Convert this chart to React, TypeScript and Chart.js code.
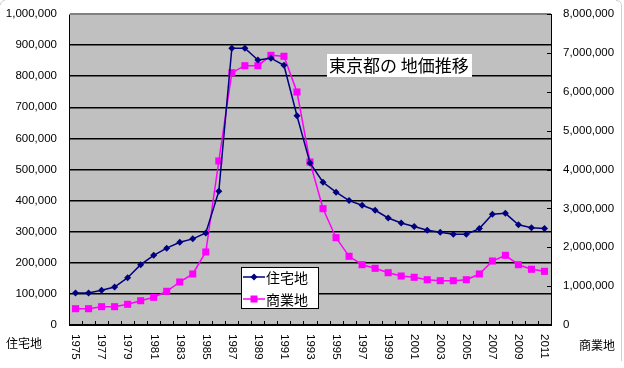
import React, { useEffect, useRef } from 'react';
import { Chart, registerables } from 'chart.js';

Chart.register(...registerables);

const years = [
  '1975', '1976', '1977', '1978', '1979', '1980', '1981', '1982', '1983', '1984',
  '1985', '1986', '1987', '1988', '1989', '1990', '1991', '1992', '1993', '1994',
  '1995', '1996', '1997', '1998', '1999', '2000', '2001', '2002', '2003', '2004',
  '2005', '2006', '2007', '2008', '2009', '2010', '2011',
];

// 住宅地 (left axis)
const residential = [
  103000, 103000, 112000, 122000, 152000, 194000, 224000, 247000, 266000, 277000,
  296000, 430000, 890000, 890000, 852000, 858000, 835000, 673000, 521000, 459000,
  427000, 400000, 385000, 369000, 344000, 328000, 317000, 305000, 298000, 292000,
  292000, 310000, 356000, 359000, 322000, 313000, 310000,
];

// 商業地 (right axis)
const commercial = [
  419000, 419000, 471000, 471000, 532000, 625000, 712000, 867000, 1106000, 1312000,
  1878000, 4219000, 6490000, 6670000, 6670000, 6937000, 6912000, 5994000, 4193000, 2992000,
  2246000, 1767000, 1551000, 1458000, 1345000, 1260000, 1227000, 1165000, 1140000, 1140000,
  1165000, 1312000, 1646000, 1793000, 1551000, 1433000, 1381000,
];

const seriesNames = ['住宅地', '商業地'];
const seriesColors = ['#000080', '#FF00FF'];
const titleText = '東京都の 地価推移';
const leftAxisTitle = '住宅地';
const rightAxisTitle = '商業地';
const leftMax = 1000000;
const leftStep = 100000;
const rightMax = 8000000;
const rightStep = 1000000;

const NUM_FONT = '"Liberation Sans", Arial, sans-serif';
const CJK_FONT = '"Noto Sans CJK JP", sans-serif';

const fmt = (v: number) => Number(v).toLocaleString('en-US');

const decor = {
  id: 'decor',
  beforeDraw(chart: any) {
    const { ctx, chartArea: a } = chart;
    ctx.save();
    ctx.fillStyle = '#C0C0C0';
    ctx.fillRect(a.left, a.top, a.right - a.left, a.bottom - a.top);
    ctx.restore();
  },
  afterDraw(chart: any) {
    const { ctx, chartArea: a, scales } = chart;
    const xs = scales.x;
    const yR = scales.y1;
    ctx.save();

    // top border of plot area
    ctx.strokeStyle = '#808080';
    ctx.lineWidth = 1;
    ctx.beginPath();
    ctx.moveTo(a.left, Math.round(a.top) + 0.5);
    ctx.lineTo(a.right, Math.round(a.top) + 0.5);
    ctx.stroke();

    // inward tick marks on x axis (category boundaries)
    ctx.strokeStyle = '#000';
    const n = years.length;
    const w = (a.right - a.left) / n;
    ctx.beginPath();
    for (let i = 1; i < n; i++) {
      const px = Math.round(xs.getPixelForValue(i) - w / 2) + 0.5;
      ctx.moveTo(px, a.bottom - 4);
      ctx.lineTo(px, a.bottom);
    }
    // inward tick marks on right axis
    yR.ticks.forEach((_t: any, i: number) => {
      const py = Math.round(yR.getPixelForTick(i)) + 0.5;
      ctx.moveTo(a.right - 4, py);
      ctx.lineTo(a.right, py);
    });
    ctx.stroke();

    // x labels, rotated clockwise
    ctx.fillStyle = '#000';
    ctx.font = `11.5px ${NUM_FONT}`;
    ctx.textAlign = 'left';
    ctx.textBaseline = 'middle';
    years.forEach((yr, i) => {
      if (i % 2) return;
      const px = xs.getPixelForValue(i);
      ctx.save();
      ctx.translate(px, a.bottom + 9);
      ctx.rotate(Math.PI / 2);
      ctx.fillText(yr, 0, 0);
      ctx.restore();
    });

    // axis titles
    ctx.font = `12px ${CJK_FONT}`;
    ctx.textBaseline = 'middle';
    ctx.textAlign = 'left';
    ctx.fillText(leftAxisTitle, 6, a.bottom + 18);
    ctx.fillText(rightAxisTitle, a.right + 28, a.bottom + 20);

    // title box
    const tx = a.left + 258;
    const ty = a.top + 40;
    ctx.fillStyle = '#FFFFFF';
    ctx.fillRect(tx, ty, 145, 23);
    ctx.fillStyle = '#000';
    ctx.font = `17px ${CJK_FONT}`;
    ctx.fillText(titleText, tx + 2, ty + 12);

    // legend
    const lx = a.left + 172;
    const ly = a.bottom - 58;
    ctx.fillStyle = '#FFFFFF';
    ctx.fillRect(lx, ly, 77, 41);
    ctx.strokeStyle = '#000';
    ctx.lineWidth = 1;
    ctx.strokeRect(lx + 0.5, ly + 0.5, 77, 41);
    ctx.font = `14px ${CJK_FONT}`;
    seriesNames.forEach((name, i) => {
      const cy = ly + 10 + i * 22;
      ctx.strokeStyle = seriesColors[i];
      ctx.fillStyle = seriesColors[i];
      ctx.lineWidth = 1.5;
      ctx.beginPath();
      ctx.moveTo(lx + 2, cy);
      ctx.lineTo(lx + 24, cy);
      ctx.stroke();
      const mx = lx + 13;
      ctx.beginPath();
      if (i === 0) {
        ctx.moveTo(mx, cy - 3.5);
        ctx.lineTo(mx + 3.5, cy);
        ctx.lineTo(mx, cy + 3.5);
        ctx.lineTo(mx - 3.5, cy);
        ctx.closePath();
      } else {
        ctx.rect(mx - 3.5, cy - 3.5, 7, 7);
      }
      ctx.fill();
      ctx.fillStyle = '#000';
      ctx.fillText(name, lx + 25, cy + 1);
    });

    // outer frame hints
    const W = chart.width;
    const H = chart.height;
    ctx.strokeStyle = '#D0D0D0';
    ctx.lineWidth = 1;
    ctx.beginPath();
    ctx.moveTo(0.5, 5);
    ctx.quadraticCurveTo(0.5, 0.5, 5, 0.5);
    ctx.stroke();
    ctx.beginPath();
    ctx.moveTo(W - 8, 0.5);
    ctx.quadraticCurveTo(W - 2.5, 0.5, W - 2.5, 6);
    ctx.lineTo(W - 2.5, H - 7);
    ctx.stroke();

    ctx.restore();
  },
};

export default function App() {
  const ref = useRef<HTMLCanvasElement | null>(null);
  useEffect(() => {
    const canvas = ref.current;
    if (!canvas) return;
    const chart = new Chart(canvas, {
      type: 'line',
      data: {
        labels: years,
        datasets: [
          {
            label: seriesNames[0],
            data: residential,
            yAxisID: 'y',
            borderColor: seriesColors[0],
            backgroundColor: seriesColors[0],
            borderWidth: 1.5,
            pointStyle: 'rectRot',
            pointRadius: 3.5,
            pointBorderWidth: 0,
            tension: 0,
          },
          {
            label: seriesNames[1],
            data: commercial,
            yAxisID: 'y1',
            borderColor: seriesColors[1],
            backgroundColor: seriesColors[1],
            borderWidth: 1.5,
            pointStyle: 'rect',
            pointRadius: 5,
            pointBorderWidth: 0,
            tension: 0,
          },
        ],
      },
      options: {
        responsive: false,
        devicePixelRatio: 1,
        animation: false,
        layout: { padding: { top: 14, left: 0, right: 0, bottom: 0 } },
        plugins: {
          legend: { display: false },
          tooltip: { enabled: false },
          title: { display: false },
        },
        scales: {
          x: {
            type: 'category',
            offset: true,
            grid: { display: true, drawOnChartArea: false, drawTicks: false },
            border: { display: true, color: '#000', width: 1 },
            ticks: { display: false },
            afterFit(s: any) {
              s.height = 43;
              s.paddingLeft = 0;
              s.paddingRight = 0;
            },
          },
          y: {
            position: 'left',
            min: 0,
            max: leftMax,
            ticks: {
              stepSize: leftStep,
              padding: 12,
              color: '#000',
              font: { family: NUM_FONT, size: 11.5 },
              callback: (v: any) => fmt(v),
            },
            grid: {
              color: (c: any) => (c.tick && c.tick.value === leftMax ? '#808080' : '#000'),
              lineWidth: 1.5,
              drawTicks: false,
            },
            border: { display: true, color: '#000', width: 1 },
            afterFit(s: any) {
              s.width = 69;
              s.paddingTop = 0;
              s.paddingBottom = 0;
            },
          },
          y1: {
            position: 'right',
            min: 0,
            max: rightMax,
            ticks: {
              stepSize: rightStep,
              padding: 12,
              color: '#000',
              font: { family: NUM_FONT, size: 11.5 },
              callback: (v: any) => fmt(v),
            },
            grid: { drawOnChartArea: false, drawTicks: false },
            border: { display: true, color: '#000', width: 1 },
            afterFit(s: any) {
              s.width = 73;
              s.paddingTop = 0;
              s.paddingBottom = 0;
            },
          },
        },
      },
      plugins: [decor],
    } as any);
    return () => chart.destroy();
  }, []);
  return (
    <div style={{ position: 'fixed', left: 0, top: 0, width: 624, height: 368, background: '#fff' }}>
      <canvas ref={ref} width={624} height={368} style={{ display: 'block' }} />
    </div>
  );
}
